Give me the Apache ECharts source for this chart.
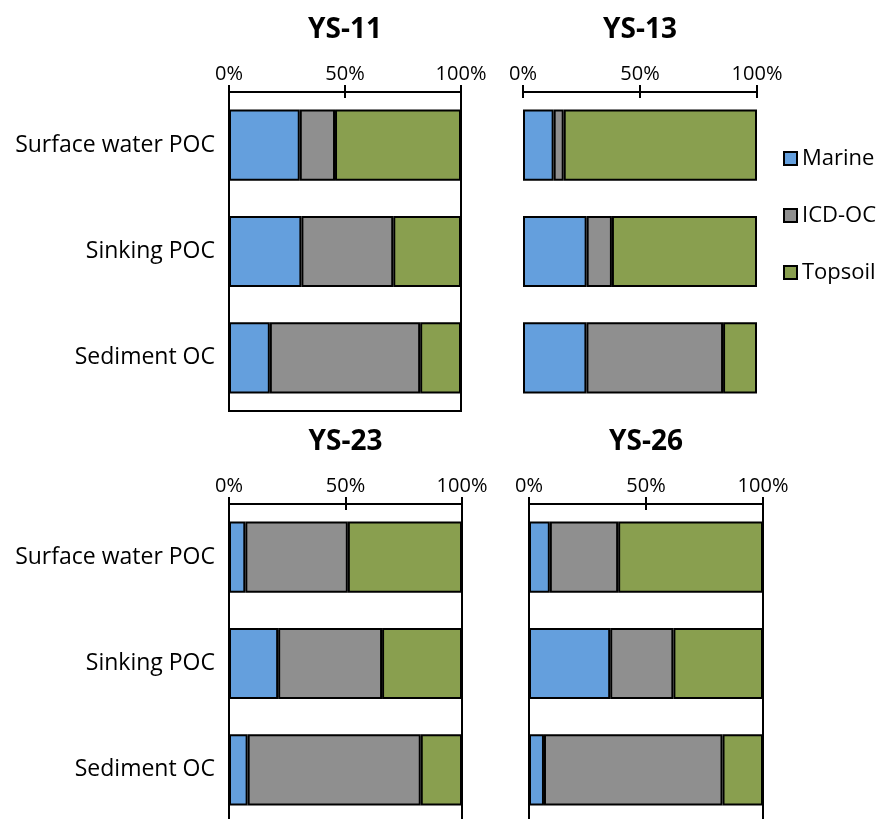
<!DOCTYPE html>
<html>
<head>
<meta charset="utf-8">
<title>OC sources</title>
<script src="https://cdn.jsdelivr.net/npm/echarts@6/dist/echarts.min.js"></script>
<style>
  html, body { margin: 0; padding: 0; background: #fff; }
  #chart { width: 880px; height: 819px; }
</style>
</head>
<body>
<div id="chart"></div>
<script>
const categories = ['Surface water POC', 'Sinking POC', 'Sediment OC']
const sources = ['Marine', 'ICD-OC', 'Topsoil']
const panelNames = ['YS-11', 'YS-13', 'YS-23', 'YS-26']

// percent contribution, order follows categories
const ys11Marine = [30.5, 31.2, 17.6]
const ys11Icd = [15.2, 39.6, 64.8]
const ys11Topsoil = [54.3, 29.2, 17.6]

const ys13Marine = [13.1, 27.2, 27.1]
const ys13Icd = [4.3, 10.8, 58.4]
const ys13Topsoil = [82.6, 62.0, 14.5]

const ys23Marine = [7.0, 21.1, 8.0]
const ys23Icd = [44.0, 44.6, 74.3]
const ys23Topsoil = [49.0, 34.3, 17.7]

const ys26Marine = [8.9, 34.7, 6.4]
const ys26Icd = [29.2, 27.0, 76.3]
const ys26Topsoil = [61.9, 38.3, 17.3]

const tickMin = 0
const tickMax = 100
const tickStep = 50

const panelData = [
  [ys11Marine, ys11Icd, ys11Topsoil],
  [ys13Marine, ys13Icd, ys13Topsoil],
  [ys23Marine, ys23Icd, ys23Topsoil],
  [ys26Marine, ys26Icd, ys26Topsoil],
]

const colors = ['#649fdd', '#8f8f8f', '#899f4f']
const font = 'Open Sans'

// layout of the four panels (bottom row runs past the page edge)
const panels = [
  { left: 229, width: 232, top: 92, border: true, labels: true },
  { left: 523, width: 234, top: 92, border: false, labels: false },
  { left: 229, width: 233, top: 504, border: true, labels: true },
  { left: 529, width: 234, top: 504, border: true, labels: false },
]

const grid = []
const xAxis = []
const yAxis = []
const series = []
const title = []

panels.forEach((p, i) => {
  grid.push({
    left: p.left,
    width: p.width,
    top: p.top,
    height: 319,
    outerBoundsMode: 'none',
    show: p.border,
    borderColor: '#000',
    borderWidth: 2,
    backgroundColor: 'transparent',
  })

  title.push({
    text: panelNames[i],
    left: p.left + p.width / 2,
    top: p.top - 76,
    textAlign: 'center',
    padding: 0,
    textStyle: { fontFamily: font, fontSize: 28, fontWeight: 'bold', color: '#000' },
  })

  // main top axis, ticks pointing up
  xAxis.push({
    type: 'value',
    gridIndex: i,
    position: 'top',
    min: tickMin,
    max: tickMax,
    interval: tickStep,
    splitLine: { show: false },
    axisLine: { show: true, lineStyle: { color: '#000', width: 2 } },
    axisTick: { show: true, length: 7, lineStyle: { color: '#000', width: 2 } },
    axisLabel: {
      formatter: '{value}%',
      fontFamily: font,
      fontSize: 20,
      color: '#000',
      margin: 8,
    },
  })
  // second axis only to draw the lower half of the crossing ticks
  xAxis.push({
    type: 'value',
    gridIndex: i,
    position: 'top',
    offset: 0,
    min: tickMin,
    max: tickMax,
    interval: tickStep,
    splitLine: { show: false },
    axisLine: { show: false },
    axisTick: { show: true, inside: true, length: 6, lineStyle: { color: '#000', width: 2 } },
    axisLabel: { show: false },
  })

  yAxis.push({
    type: 'category',
    gridIndex: i,
    data: categories,
    inverse: true,
    axisLine: { show: false },
    axisTick: { show: false },
    axisLabel: {
      show: p.labels,
      fontFamily: font,
      fontSize: 23,
      color: '#000',
      margin: 14,
    },
  })

  sources.forEach((name, k) => {
    series.push({
      name: name,
      type: 'bar',
      stack: 'panel' + i,
      xAxisIndex: i * 2,
      yAxisIndex: i,
      barWidth: '67%',
      data: panelData[i][k],
      itemStyle: { color: colors[k], borderColor: '#000', borderWidth: 2 },
      emphasis: { disabled: true },
    })
  })
})

const chart = echarts.init(document.getElementById('chart'))
chart.setOption({
  animation: false,
  title: title,
  grid: grid,
  xAxis: xAxis,
  yAxis: yAxis,
  legend: {
    data: sources,
    orient: 'vertical',
    left: 783,
    top: 147,
    padding: 0,
    icon: 'rect',
    itemWidth: 13,
    itemHeight: 13,
    itemGap: 34,
    textStyle: { fontFamily: font, fontSize: 22, color: '#000', lineHeight: 23 },
  },
  series: series,
})
</script>
</body>
</html>
